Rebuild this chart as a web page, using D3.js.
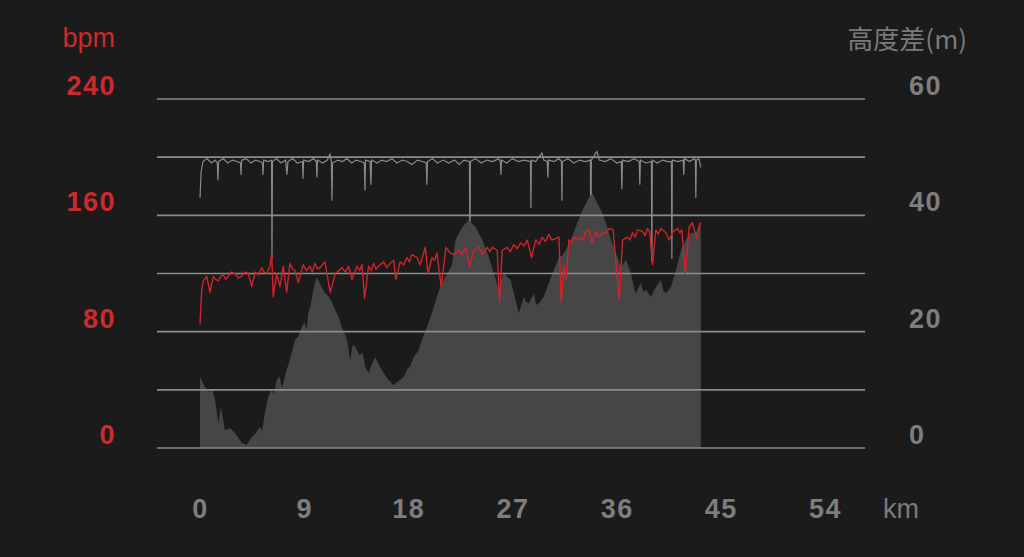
<!DOCTYPE html>
<html lang="ja">
<head>
<meta charset="utf-8">
<title>Heart rate and elevation</title>
<script src="https://d3js.org/d3.v7.min.js"></script>
<style>
  body { margin: 0; background: #1b1b1b; }
  svg { display: block; }
  .num { font-family: "Liberation Sans", Arial, sans-serif; font-weight: bold; font-size: 27px; letter-spacing: 1.5px; }
  .unit { font-family: "Liberation Sans", Arial, sans-serif; font-size: 27px; }
</style>
</head>
<body>
<div id="chart"></div>
<script>

// [km, bpm]
var hrPoints = [
  [0.00,85],[0.15,109],[0.29,115],[0.58,118],[0.86,107],[1.15,118],[1.35,116],[1.58,115],[1.80,118],[2.01,119],
  [2.22,116],[2.44,118],[2.70,121],[3.02,120],[3.30,117],[3.60,118],[3.90,121],[4.17,120],[4.47,111],[4.75,121],
  [5.05,119],[5.33,124],[5.55,121],[5.76,120],[6.05,125],[6.19,134],[6.33,104],[6.62,120],[6.91,111],[7.19,125],
  [7.49,107],[7.77,127],[8.00,123],[8.21,122],[8.49,114],[8.92,126],[9.20,122],[9.50,125],[9.70,121],[9.93,127],
  [10.15,123],[10.36,124],[10.80,128],[10.97,120],[11.25,107],[11.69,120],[12.00,122],[12.26,124],[12.55,121],[12.84,125],
  [13.13,116],[13.56,125],[13.80,122],[13.99,126],[14.22,103],[14.57,125],[14.80,122],[15.00,127],[15.20,123],[15.43,125],
  [15.87,128],[16.15,124],[16.44,127],[16.73,129],[16.93,116],[17.30,128],[17.60,126],[17.88,131],[18.10,128],[18.31,133],
  [18.74,131],[19.03,126],[19.46,138],[19.69,120],[20.04,131],[20.25,129],[20.47,134],[20.84,111],[21.25,138],[21.62,134],
  [22.00,133],[22.37,136],[22.65,133],[22.95,138],[23.29,125],[23.67,136],[24.10,138],[24.38,133],[24.81,138],[25.05,135],
  [25.25,138],[25.68,136],[25.88,100],[26.11,136],[26.54,138],[26.80,135],[27.12,140],[27.40,137],[27.70,141],[28.00,139],
  [28.27,143],[28.65,131],[29.00,143],[29.30,140],[29.56,145],[29.85,142],[30.14,147],[30.40,143],[30.72,144],[31.01,145],
  [31.21,100],[31.44,125],[31.64,116],[31.87,143],[32.10,141],[32.30,145],[32.73,143],[32.91,145],[33.10,143],[33.34,149],
  [33.62,150],[33.86,141],[34.20,149],[34.40,145],[34.64,147],[35.07,148],[35.35,151],[35.70,150],[35.99,122],[36.22,102],
  [36.51,143],[36.94,145],[37.15,143],[37.37,148],[37.60,145],[37.80,150],[38.23,149],[38.45,146],[38.66,151],[38.85,149],
  [39.10,126],[39.38,150],[39.60,147],[39.82,151],[40.25,148],[40.53,143],[40.88,149],[41.26,151],[41.45,148],[41.63,150],
  [41.92,120],[42.26,152],[42.55,155],[42.90,144],[43.10,152],[43.27,155]
];

// [km, metres]
var elevPoints = [
  [0.00,12.2],[0.43,10.5],[0.80,9.6],[1.05,10.2],[1.30,8.3],[1.58,4.3],[1.81,7.0],[2.16,3.1],[2.60,3.4],[3.02,2.6],
  [3.30,1.8],[3.60,0.9],[4.03,0.5],[4.47,1.9],[4.80,2.5],[5.18,3.6],[5.35,2.9],[5.61,6.0],[5.90,8.8],[6.19,10.0],
  [6.40,9.3],[6.62,11.7],[6.90,12.3],[7.05,10.4],[7.19,11.2],[7.49,13.4],[7.92,16.3],[8.21,18.6],[8.50,19.2],[8.78,20.8],
  [9.05,21.6],[9.20,20.2],[9.35,23.2],[9.55,24.5],[9.79,27.2],[10.08,29.4],[10.51,27.7],[10.80,26.6],[11.12,26.0],[11.40,25.1],
  [11.69,23.7],[12.00,22.4],[12.26,20.8],[12.70,18.6],[12.98,15.1],[13.20,17.8],[13.41,17.4],[13.80,15.9],[14.05,16.4],[14.28,13.9],
  [14.57,12.9],[14.85,14.4],[15.14,15.6],[15.57,13.9],[15.90,12.8],[16.30,11.7],[16.73,10.8],[17.00,11.3],[17.30,11.7],[17.60,12.2],
  [17.88,13.4],[18.20,14.2],[18.46,15.6],[18.89,16.8],[19.17,18.6],[19.61,20.8],[20.04,23.2],[20.47,26.0],[20.75,27.7],[21.19,29.4],
  [21.51,30.5],[21.77,31.5],[22.08,35.8],[22.66,38.0],[23.23,39.2],[23.81,38.0],[24.38,35.8],[24.96,32.8],[25.39,30.1],[25.82,27.2],
  [26.05,29.0],[26.26,30.1],[26.55,29.4],[26.84,28.9],[27.27,25.4],[27.55,23.2],[27.98,26.0],[28.20,25.0],[28.42,24.9],[28.85,26.6],
  [29.05,24.6],[29.28,24.9],[29.71,26.0],[30.14,28.4],[30.58,30.6],[31.01,32.8],[31.30,33.1],[31.59,34.0],[32.16,36.3],[32.59,38.7],
  [33.06,40.9],[33.62,43.1],[33.91,43.8],[34.20,42.6],[34.64,40.9],[35.07,38.7],[35.50,35.8],[35.94,33.5],[36.37,31.1],[36.80,32.3],
  [37.23,30.1],[37.50,27.5],[37.66,26.6],[38.09,28.4],[38.30,26.8],[38.52,27.2],[38.96,26.0],[39.39,27.7],[39.82,28.9],[40.05,27.0],
  [40.25,26.6],[40.69,27.7],[41.12,30.6],[41.55,34.0],[41.98,35.8],[42.41,37.0],[42.84,37.0],[43.27,38.7]
];

// [km, value on bpm axis]
var grayPoints = [
  [0.00,172],[0.10,190],[0.26,197],[0.60,199],[1.00,196],[1.30,198],[1.50,196],[1.55,184],[1.60,197],[2.00,199],
  [2.40,196],[2.80,198],[3.20,197],[3.50,196],[3.54,188],[3.60,198],[4.00,199],[4.40,196],[4.80,198],[5.20,197],
  [5.40,196],[5.44,188],[5.50,198],[5.90,197],[6.18,198],[6.22,130],[6.26,197],[6.60,199],[7.00,196],[7.40,198],
  [7.51,188],[7.60,197],[8.00,199],[8.40,196],[8.86,197],[8.90,185],[8.95,198],[9.40,197],[9.80,199],[10.05,197],
  [10.10,186],[10.15,198],[10.60,196],[11.00,198],[11.23,202],[11.35,197],[11.40,170],[11.45,196],[11.90,198],[12.30,197],
  [12.70,199],[13.10,196],[13.50,198],[13.90,197],[14.20,196],[14.25,177],[14.30,198],[14.70,197],[14.77,181],[14.82,198],
  [15.30,196],[15.70,198],[16.10,197],[16.60,199],[17.00,196],[17.50,198],[17.90,197],[18.30,195],[18.80,198],[19.20,197],
  [19.55,196],[19.60,181],[19.65,197],[20.10,199],[20.50,196],[21.00,198],[21.50,196],[22.00,198],[22.40,195],[22.80,198],
  [23.28,197],[23.32,130],[23.36,197],[23.80,199],[24.30,196],[24.80,198],[25.30,197],[25.80,199],[25.95,197],[26.00,188],
  [26.05,198],[26.50,196],[27.00,199],[27.50,197],[28.00,198],[28.55,197],[28.59,165],[28.63,198],[29.00,197],[29.54,203],
  [29.70,198],[30.00,197],[30.06,186],[30.10,198],[30.60,197],[31.00,199],[31.23,197],[31.27,170],[31.31,197],[31.80,199],
  [32.30,196],[32.80,198],[33.30,197],[33.73,198],[33.77,130],[33.81,198],[34.29,204],[34.50,198],[35.00,197],[35.50,199],
  [36.00,196],[36.40,197],[36.45,178],[36.50,198],[37.00,197],[37.50,199],[37.95,197],[38.00,181],[38.05,198],[38.50,196],
  [39.00,197],[39.04,128],[39.08,198],[39.50,196],[40.00,198],[40.40,197],[40.73,197],[40.77,130],[40.81,198],[41.30,197],
  [41.75,198],[41.80,188],[41.85,199],[42.30,197],[42.70,199],[42.80,198],[42.84,172],[42.88,198],[43.10,199],[43.27,193]
];

var xTicks = [0, 9, 18, 27, 36, 45, 54];
var bpmTicks = [0, 80, 160, 240];
var elevTicks = [0, 20, 40, 60];
var gridBpm = [0, 40, 80, 120, 160, 200, 240];

var W = 1024, H = 557;
var gridLeft = 157, gridRight = 865;

var svg = d3.select("#chart").append("svg")
  .attr("width", W)
  .attr("height", H);

svg.append("rect").attr("width", W).attr("height", H).attr("fill", "#1b1b1b");

var x = d3.scaleLinear().domain([0, 54]).range([200, 825]);
var yL = d3.scaleLinear().domain([0, 240]).range([448, 99]);
var yR = d3.scaleLinear().domain([0, 60]).range([448, 99]);

// gray thin line (drawn first, area covers its drops)
var grayLine = d3.line()
  .x(function(d) { return x(d[0]); })
  .y(function(d) { return yL(d[1]); });

svg.append("path")
  .datum(grayPoints)
  .attr("d", grayLine)
  .attr("fill", "none")
  .attr("stroke", "#8a8a8a")
  .attr("stroke-width", 1.2);

// elevation area
var area = d3.area()
  .x(function(d) { return x(d[0]); })
  .y0(yR(0))
  .y1(function(d) { return yR(d[1]); });

svg.append("path")
  .datum(elevPoints)
  .attr("d", area)
  .attr("fill", "#464646");

// grid
svg.append("g").selectAll("line")
  .data(gridBpm)
  .enter().append("line")
  .attr("x1", gridLeft).attr("x2", gridRight)
  .attr("y1", function(d) { return yL(d); })
  .attr("y2", function(d) { return yL(d); })
  .attr("stroke", "#8c8c8c")
  .attr("stroke-width", 1.6);

// heart rate
var hrLine = d3.line()
  .x(function(d) { return x(d[0]); })
  .y(function(d) { return yL(d[1]); });

svg.append("path")
  .datum(hrPoints)
  .attr("d", hrLine)
  .attr("fill", "none")
  .attr("stroke", "#d0232a")
  .attr("stroke-width", 1.4)
  .attr("stroke-linejoin", "round");

// left axis
svg.append("g").selectAll("text")
  .data(bpmTicks)
  .enter().append("text")
  .attr("class", "num")
  .attr("x", 116)
  .attr("y", function(d) { return yL(d) - 4; })
  .attr("text-anchor", "end")
  .attr("fill", "#cc2a2c")
  .text(function(d) { return d; });

svg.append("text")
  .attr("class", "unit")
  .attr("x", 115).attr("y", 47)
  .attr("text-anchor", "end")
  .attr("fill", "#cc2a2c")
  .text("bpm");

// right axis
svg.append("g").selectAll("text")
  .data(elevTicks)
  .enter().append("text")
  .attr("class", "num")
  .attr("x", 909)
  .attr("y", function(d) { return yR(d) - 4; })
  .attr("fill", "#7e7e7e")
  .text(function(d) { return d; });

svg.append("text")
  .attr("x", 967).attr("y", 49)
  .attr("text-anchor", "end")
  .attr("fill", "#7a7a7a")
  .style("font-family", "'Noto Sans CJK JP', 'Noto Sans', sans-serif")
  .style("font-size", "26px")
  .text("高度差(m)");

// bottom axis
var xAxis = svg.append("g")
  .attr("transform", "translate(0,518)")
  .call(d3.axisBottom(x).tickValues(xTicks).tickSize(0).tickPadding(0));
xAxis.select(".domain").remove();
xAxis.selectAll("text")
  .attr("class", "num")
  .attr("dy", 0)
  .attr("y", 0)
  .attr("fill", "#7e7e7e");
xAxis.attr("font-size", null).attr("font-family", null);

svg.append("text")
  .attr("class", "unit")
  .attr("x", 883).attr("y", 518)
  .attr("fill", "#7a7a7a")
  .text("km");

</script>
</body>
</html>
